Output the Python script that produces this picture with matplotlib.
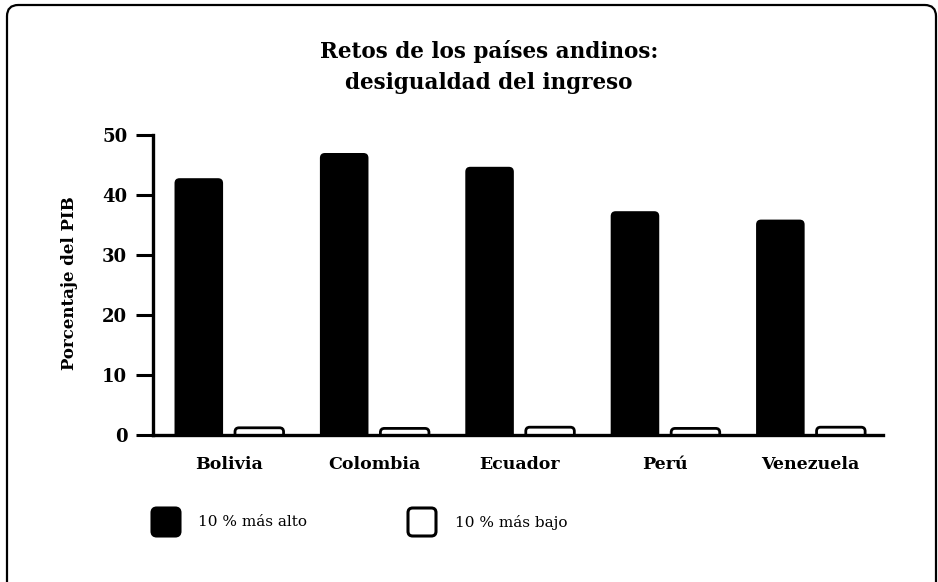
import matplotlib
matplotlib.use("Agg")
import matplotlib.pyplot as plt
from matplotlib.patches import FancyBboxPatch
from matplotlib import font_manager
import numpy as np

countries = ["Bolivia", "Colombia", "Ecuador", "Perú", "Venezuela"]
top10 = [42.8, 47.0, 44.7, 37.3, 35.9]
bottom10 = [1.2, 1.1, 1.3, 1.1, 1.3]
yticks = [0, 10, 20, 30, 40, 50]
title = "Retos de los países andinos:\ndesigualdad del ingreso"
ylabel = "Porcentaje del PIB"
legend_labels = ["10 % más alto", "10 % más bajo"]

names = {f.name for f in font_manager.fontManager.ttflist}
fam = ["DejaVu Serif Condensed", "DejaVu Serif"] if "DejaVu Serif Condensed" in names else ["DejaVu Serif"]
plt.rcParams["font.family"] = fam

W, H = 938, 582
fig = plt.figure(figsize=(W / 100, H / 100), dpi=100)

# outer rounded frame
frame = FancyBboxPatch((7 / W, -20 / H), (936 - 7) / W, (582 - 5 + 20) / H,
                       boxstyle="round,pad=0,rounding_size=0.012",
                       mutation_aspect=W / H, transform=fig.transFigure,
                       facecolor="none", edgecolor="black", linewidth=1.6,
                       clip_on=False, zorder=-1)
fig.add_artist(frame)

ax = fig.add_axes([153 / W, 1 - 435 / H, (883 - 153) / W, (435 - 135) / H])
ax.set_facecolor("none")

x = np.arange(len(countries))
bw = 0.334
off = 0.208
b1 = ax.bar(x - off, top10, bw, color="black", linewidth=0)
b2 = ax.bar(x + off, bottom10, bw, color="white", edgecolor="black", linewidth=2)

ax.set_xlim(-0.523, 4.498)
ax.set_ylim(0, 50)

# convert bars to rounded-top shapes (bottom rounding hidden below the axis)
px_x = (883 - 153) / (4.498 + 0.523)
px_y = 300 / 50
for bars, r_px in ((b1, 5), (b2, 4)):
    for p in bars.patches:
        x0, y0 = p.get_x(), p.get_y()
        w, h = p.get_width(), p.get_height()
        ext = r_px / px_y
        rs = r_px / px_x
        fb = FancyBboxPatch((x0, y0 - ext), w, h + ext,
                            boxstyle=f"round,pad=0,rounding_size={rs}",
                            mutation_aspect=px_x / px_y,
                            facecolor=p.get_facecolor(), edgecolor=p.get_edgecolor(),
                            linewidth=p.get_linewidth(), clip_on=True)
        ax.add_patch(fb)
        fb.set_clip_path(ax.patch)
        p.set_visible(False)

for s in ["top", "right"]:
    ax.spines[s].set_visible(False)
ax.spines["left"].set_linewidth(2.4)
ax.spines["bottom"].set_linewidth(2.4)
ax.spines["left"].set_zorder(5)
ax.spines["bottom"].set_zorder(5)

ax.set_yticks(yticks)
ax.set_yticklabels([str(v) for v in yticks], fontsize=13, fontweight="bold")
ax.tick_params(axis="y", length=12.5, width=2.2, pad=6)
ax.set_xticks(x)
ax.set_xticklabels(countries, fontsize=12.5, fontweight="bold")
ax.tick_params(axis="x", length=0, pad=15)

fig.text(70 / W, 1 - 283 / H, ylabel, rotation=90, ha="center", va="center",
         fontsize=12, fontweight="bold")

fig.text(489 / W, 1 - 67 / H, title, ha="center", va="center", fontsize=15.5,
         fontweight="bold", linespacing=1.55)

# legend
sq = 28
for i, (fc, lab) in enumerate([("black", legend_labels[0]), ("white", legend_labels[1])]):
    lx = [152, 408][i]
    box = FancyBboxPatch((lx / W, 1 - 536 / H), sq / W, sq / H,
                         boxstyle="round,pad=0,rounding_size=0.005",
                         mutation_aspect=W / H, transform=fig.transFigure,
                         facecolor=fc, edgecolor="black", linewidth=2.2)
    fig.add_artist(box)
    fig.text([198, 455][i] / W, 1 - 522 / H, lab, ha="left", va="center", fontsize=11)

fig.savefig("out.png", dpi=100)
